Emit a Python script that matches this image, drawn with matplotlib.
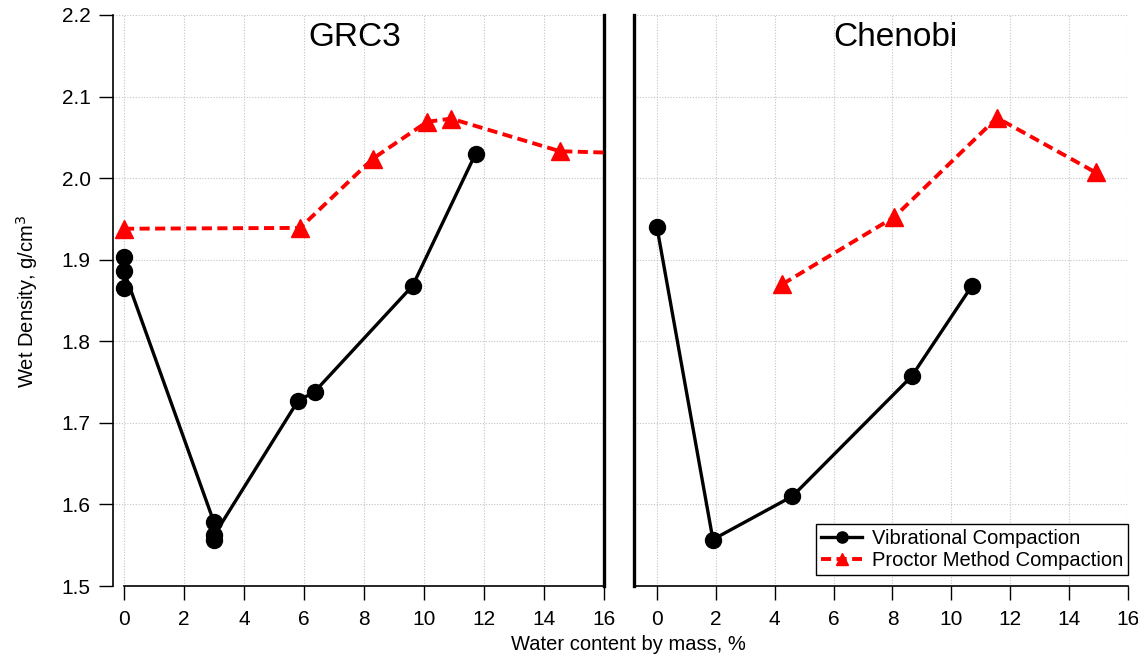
import matplotlib
matplotlib.use("Agg")
import matplotlib.pyplot as plt
from matplotlib.lines import Line2D

plt.rcParams['font.family'] = ['Liberation Sans', 'DejaVu Sans']

# ---- data ----
grc3_vib_x = [0, 0, 0, 3, 3, 3, 5.8, 6.35, 9.62, 11.72]
grc3_vib_y = [1.903, 1.865, 1.886, 1.578, 1.556, 1.562, 1.727, 1.738, 1.868, 2.030]
grc3_proc_x = [0, 5.87, 8.3, 10.1, 10.9, 14.53, 17.3]
grc3_proc_y = [1.938, 1.939, 2.024, 2.069, 2.073, 2.033, 2.030]

cheno_vib_x = [0, 1.9, 4.6, 8.65, 10.7]
cheno_vib_y = [1.940, 1.557, 1.610, 1.757, 1.868]
cheno_proc_x = [4.26, 8.05, 11.55, 14.9]
cheno_proc_y = [1.870, 1.952, 2.074, 2.007]

panel_titles = ["GRC3", "Chenobi"]
x_ticks = [0, 2, 4, 6, 8, 10, 12, 14, 16]
y_ticks = [1.5, 1.6, 1.7, 1.8, 1.9, 2.0, 2.1, 2.2]
legend_labels = ["Vibrational Compaction", "Proctor Method Compaction"]

# ---- layout (pixel-based) ----
W, H = 1138, 657
fig = plt.figure(figsize=(W / 100, H / 100), dpi=100)

def fx(px):
    return px / W

def fy(py):
    return 1 - py / H

top_px, bot_px = 15, 586
axL = fig.add_axes([fx(113), fy(bot_px), fx(604 - 113), (bot_px - top_px) / H])
axR = fig.add_axes([fx(634), fy(bot_px), fx(1128 - 634), (bot_px - top_px) / H])

vib_style = dict(color='black', lw=2.4, marker='o', ms=11.5, mfc='black', mec='black')
proc_style = dict(color='#ff0000', lw=2.8, ls=(0, (2.6, 1.4)), marker='^', ms=13,
                  mfc='#ff0000', mec='#ff0000')

tick_fs = 15
grid_kw = dict(color='#c4c4c4', ls=(0, (1, 1.5)), lw=0.8)

for ax in (axL, axR):
    ax.set_ylim(1.5, 2.2)
    ax.set_xticks(x_ticks)
    ax.set_yticks(y_ticks)
    ax.grid(True, **grid_kw)
    ax.set_axisbelow(True)
    ax.spines['top'].set_visible(False)
    ax.tick_params(axis='x', direction='out', length=10, width=1.0, labelsize=tick_fs, pad=7)
    ax.spines['bottom'].set_linewidth(1.2)

axL.set_xlim(-0.367, 16)
axR.set_xlim(-0.78, 16)

# left panel spines
axL.spines['left'].set_linewidth(1.2)
axL.spines['right'].set_linewidth(2.4)
axL.spines['bottom'].set_bounds(0, 16)
axL.tick_params(axis='y', direction='out', length=10, width=1.0, labelsize=tick_fs, pad=6)
axL.set_yticklabels([f"{v:.1f}" for v in y_ticks])

# right panel spines
axR.spines['right'].set_visible(False)
axR.spines['left'].set_linewidth(2.4)
axR.tick_params(axis='y', left=False, labelleft=False)

axL.plot(grc3_vib_x, grc3_vib_y, **vib_style, zorder=3)
axL.plot(grc3_proc_x, grc3_proc_y, **proc_style, zorder=3)
axR.plot(cheno_vib_x, cheno_vib_y, **vib_style, zorder=3)
axR.plot(cheno_proc_x, cheno_proc_y, **proc_style, zorder=3)

axL.text(7.7, 2.172, panel_titles[0], fontsize=24, ha='center', va='center')
axR.text(8.1, 2.172, panel_titles[1], fontsize=24, ha='center', va='center')

handles = [Line2D([], [], **vib_style), Line2D([], [], **proc_style)]
leg = axR.legend(handles, legend_labels, loc='lower right', bbox_to_anchor=(1.0, 0.019),
                 borderaxespad=0, fontsize=14.5, frameon=True, fancybox=False,
                 edgecolor='black', framealpha=1, handlelength=2.0, handletextpad=0.5,
                 labelspacing=0.15, borderpad=0.25, markerscale=0.7)
leg.get_frame().set_linewidth(1.0)

fig.text(fx(628), fy(644), "Water content by mass, %", fontsize=14.5, ha='center', va='center')
fig.text(fx(27), fy(301), "Wet Density, g/cm$^3$", fontsize=14.5, ha='center', va='center',
         rotation=90)

fig.savefig("out.png", dpi=100)
